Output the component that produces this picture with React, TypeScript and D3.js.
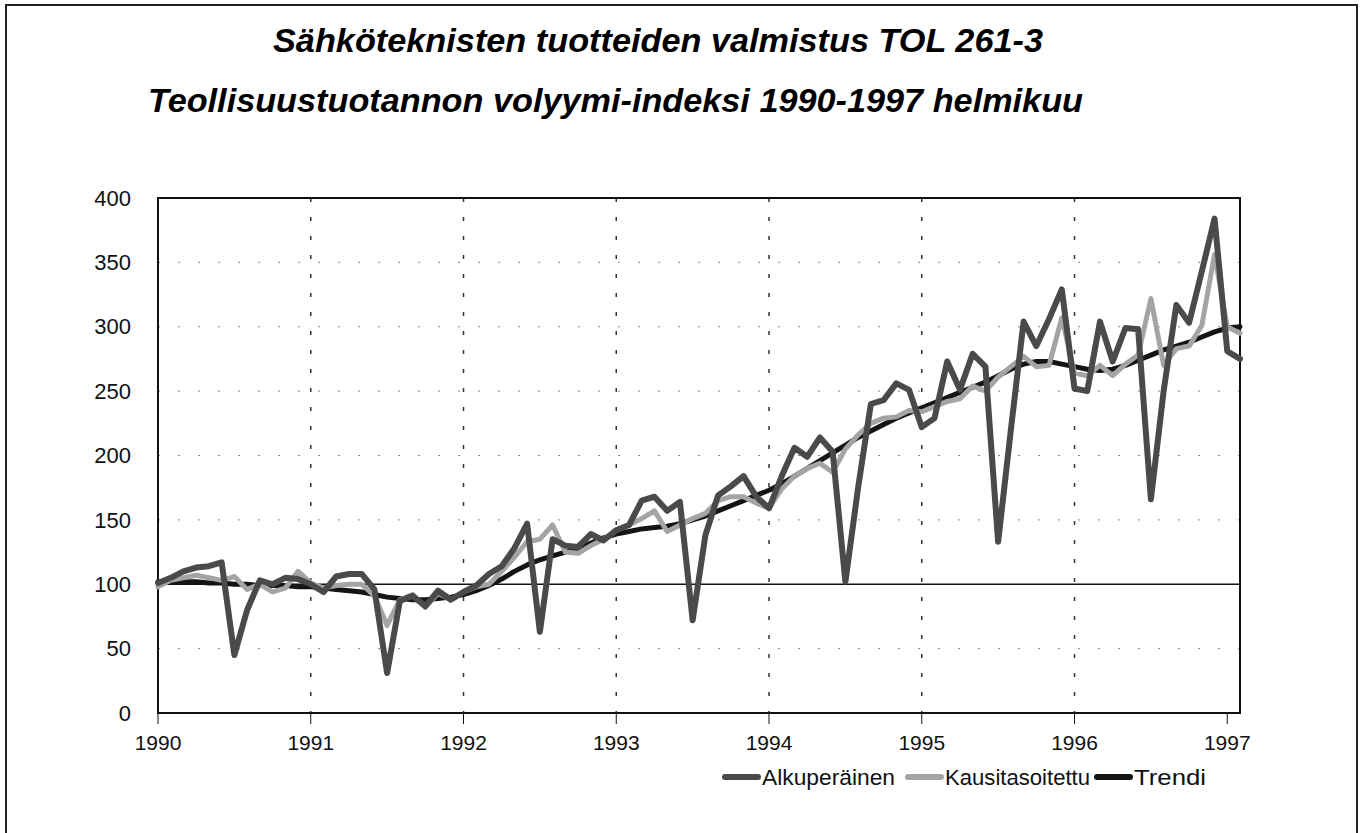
import React from 'react';
import * as d3 from 'd3';

// Teollisuustuotannon volyymi-indeksi, kuukausittain 1990/01 - 1997/02
const yearLabels = ['1990', '1991', '1992', '1993', '1994', '1995', '1996', '1997'];
const yTicks = [0, 50, 100, 150, 200, 250, 300, 350, 400];

const alkuperainen = [
  101, 105, 110, 113, 114, 117, 45, 80, 103, 100, 105, 104,
  100, 94, 106, 108, 108, 96, 31, 87, 91, 83, 95, 88,
  94, 99, 108, 114, 128, 147, 63, 135, 130, 129, 139, 134,
  142, 146, 165, 168, 157, 164, 72, 138, 169, 176, 184, 168,
  159, 184, 206, 199, 214, 203, 102, 175, 240, 243, 256, 251,
  222, 229, 273, 251, 279, 269, 133, 220, 304, 285, 306, 329,
  252, 250, 304, 273, 299, 298, 166, 250, 317, 303, 343, 384,
  281, 275,
];

const kausitasoitettu = [
  98, 103, 105, 107, 105, 103, 106, 96, 100, 94, 97, 110,
  101, 97, 99, 100, 100, 91, 68, 88, 92, 82, 93, 88,
  94, 98, 100, 110, 121, 133, 135, 146, 125, 124, 130, 135,
  142, 146, 151, 157, 141, 146, 151, 155, 165, 168, 168, 163,
  159, 174, 184, 190, 194, 187, 205, 216, 225, 229, 230, 235,
  234, 238, 242, 244, 254, 250, 261, 269, 277, 269, 270, 307,
  264, 262, 270, 262, 271, 278, 322, 270, 283, 285, 301, 356,
  300, 295,
];

const trendi = [
  102, 102, 102, 102, 101, 101, 100, 100, 99, 99, 99, 98,
  98, 97, 96, 95, 94, 92, 90, 89, 88, 88, 89, 90,
  92, 95, 99, 104, 110, 115, 119, 122, 125, 128, 132, 136,
  139, 141, 143, 144, 145, 147, 150, 153, 157, 161, 165, 169,
  173, 178, 184, 190, 196, 202, 208, 214, 219, 224, 229, 233,
  237, 241, 245, 249, 253, 257, 262, 267, 271, 273, 273, 271,
  269, 267, 266, 267, 270, 274, 278, 282, 285, 288, 292, 296,
  299, 300,
];

const series = [
  { name: 'Trendi', values: trendi, color: '#141414', width: 5 },
  { name: 'Kausitasoitettu', values: kausitasoitettu, color: '#a4a4a4', width: 5 },
  { name: 'Alkuperäinen', values: alkuperainen, color: '#4a4a4a', width: 6 },
];

const legendOrder = ['Alkuperäinen', 'Kausitasoitettu', 'Trendi'];
const legendX = [725, 908, 1097];
const legendTextLen = [133, 145, 72];

const W = 1363;
const H = 833;
const plot = { left: 158, right: 1240, top: 198, bottom: 713 };
const font = '"Liberation Sans", Arial, Helvetica, sans-serif';

export default function App() {
  const x = d3.scaleLinear().domain([0, alkuperainen.length - 1]).range([plot.left, plot.right]);
  const y = d3.scaleLinear().domain([0, 400]).range([plot.bottom, plot.top]);

  const line = d3
    .line<number>()
    .x((_, i) => x(i))
    .y((d) => y(d));

  return (
    <svg
      width={W}
      height={H}
      style={{ position: 'absolute', left: 0, top: 0, background: '#fff' }}
      fontFamily={font}
    >
      <rect x={6} y={5} width={1351} height={840} fill="#fff" stroke="#222" strokeWidth={2} />

      <text x={273} y={52} fontSize={34} fontWeight="bold" fontStyle="italic" textLength={770} lengthAdjust="spacingAndGlyphs">
        Sähköteknisten tuotteiden valmistus TOL 261-3
      </text>
      <text x={148} y={112} fontSize={34} fontWeight="bold" fontStyle="italic" textLength={935} lengthAdjust="spacingAndGlyphs">
        Teollisuustuotannon volyymi-indeksi 1990-1997 helmikuu
      </text>

      {/* vaakasuorat apuviivat */}
      {yTicks
        .filter((t) => t !== 0 && t !== 400 && t !== 100)
        .map((t) => (
          <line key={'h' + t} x1={plot.left} x2={plot.right} y1={y(t)} y2={y(t)} stroke="#8a8a8a" strokeWidth={1} strokeDasharray="2,18" />
        ))}

      {/* pystysuorat apuviivat vuosittain */}
      {yearLabels.slice(1, -1).map((lab, k) => (
        <line key={'v' + lab} x1={x((k + 1) * 12)} x2={x((k + 1) * 12)} y1={plot.top} y2={plot.bottom} stroke="#333" strokeWidth={1.5} strokeDasharray="4,15" />
      ))}

      <line x1={plot.left} x2={plot.right} y1={y(100)} y2={y(100)} stroke="#111" strokeWidth={1.5} />

      <rect x={plot.left} y={plot.top} width={plot.right - plot.left} height={plot.bottom - plot.top} fill="none" stroke="#111" strokeWidth={2} />

      {yTicks.map((t) => (
        <text key={'yl' + t} x={131} y={y(t)} dy="0.35em" textAnchor="end" fontSize={22} fill="#111">
          {t}
        </text>
      ))}

      {yearLabels.map((lab, k) => (
        <g key={'x' + lab}>
          <line x1={x(k * 12)} x2={x(k * 12)} y1={plot.bottom} y2={plot.bottom + 11} stroke="#111" strokeWidth={1} />
          <text x={x(k * 12)} y={750} textAnchor="middle" fontSize={21} fill="#111">
            {lab}
          </text>
        </g>
      ))}

      {series.map((s) => (
        <path
          key={s.name}
          d={line(s.values) || ''}
          fill="none"
          stroke={s.color}
          strokeWidth={s.width}
          strokeLinejoin="round"
          strokeLinecap="round"
        />
      ))}

      {legendOrder.map((name, k) => {
        const s = series.find((d) => d.name === name)!;
        return (
          <g key={'lg' + name}>
            <line x1={legendX[k]} x2={legendX[k] + 33} y1={777} y2={777} stroke={s.color} strokeWidth={6} strokeLinecap="round" />
            <text x={legendX[k] + 37} y={785} fontSize={22} fill="#111" textLength={legendTextLen[k]} lengthAdjust="spacingAndGlyphs">
              {name}
            </text>
          </g>
        );
      })}
    </svg>
  );
}
